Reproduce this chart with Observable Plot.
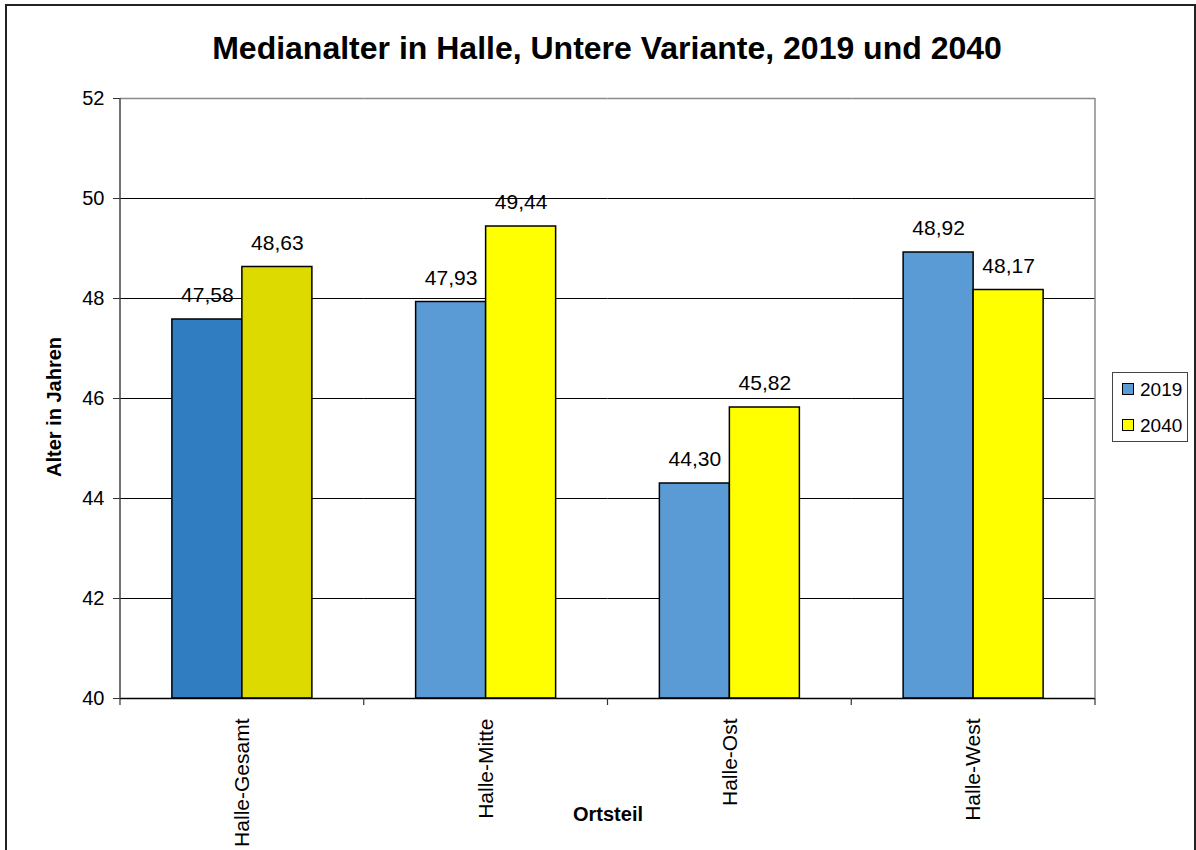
<!DOCTYPE html>
<html>
<head>
<meta charset="utf-8">
<script src="https://cdn.jsdelivr.net/npm/d3@7"></script>
<script src="https://cdn.jsdelivr.net/npm/@observablehq/plot@0.6"></script>
<style>
  html, body { margin: 0; padding: 0; background: #fff; overflow: hidden; }
  #wrap { position: relative; width: 1196px; height: 850px; font-family: "Liberation Sans", Arial, sans-serif; color: #000; }
  #outer { position: absolute; left: 5px; top: 4px; width: 1191px; height: 900px; border: 2px solid #222; border-bottom: none; box-sizing: border-box; }
  #chart { position: absolute; left: 0; top: 0; }
  .t { position: absolute; white-space: nowrap; }
  #title { left: 0; width: 1214px; top: 32px; font-size: 32px; line-height: 32px; font-weight: bold; text-align: center; }
  #ylab { left: -96px; width: 300px; top: 397px; font-size: 20px; line-height: 20px; font-weight: bold; text-align: center; transform: rotate(-90deg); }
  #xlab { left: 508px; width: 200px; top: 804px; font-size: 20px; line-height: 20px; font-weight: bold; text-align: center; }
  #legend { position: absolute; left: 1112px; top: 372px; width: 76px; height: 70px; border: 1px solid #444; box-sizing: border-box; background: #fff; }
  .sw { position: absolute; left: 1122px; width: 12px; height: 12px; border: 1px solid #000; box-sizing: border-box; }
  .lt { position: absolute; left: 1140px; font-size: 19px; line-height: 19px; }
</style>
</head>
<body>
<div id="wrap">
  <div id="outer"></div>
  <div id="chart"></div>
  <div id="title" class="t"></div>
  <div id="ylab" class="t"></div>
  <div id="xlab" class="t"></div>
  <div id="legend"></div>
</div>
<script>
// ---- data ----
const titleText = "Medianalter in Halle, Untere Variante, 2019 und 2040";
const yLabel = "Alter in Jahren";
const xLabel = "Ortsteil";
const categories = ["Halle-Gesamt", "Halle-Mitte", "Halle-Ost", "Halle-West"];
const years = ["2019", "2040"];
const values2019 = [47.58, 47.93, 44.30, 48.92];
const values2040 = [48.63, 49.44, 45.82, 48.17];
const yTicks = [40, 42, 44, 46, 48, 50, 52];

// ---- styles ----
const seriesColors = {"2019": "#5B9BD5", "2040": "#FFFF00"};
const totalColors = {"2019": "#317DC2", "2040": "#DDDA00"};

const rows = categories.flatMap((c, i) => [
  {cat: c, year: years[0], value: values2019[i]},
  {cat: c, year: years[1], value: values2040[i]}
]);
const fillOf = d => (d.cat === categories[0] ? totalColors : seriesColors)[d.year];
const fmt = v => v.toFixed(2).replace(".", ",");

const chart = Plot.plot({
  width: 1196,
  height: 850,
  marginLeft: 120,
  marginRight: 101,
  marginTop: 98,
  marginBottom: 152,
  style: {fontFamily: '"Liberation Sans", Arial, sans-serif', fontSize: "20px", background: "transparent", color: "#000"},
  fx: {domain: categories, padding: 0, round: false},
  x: {domain: years, paddingInner: 0, paddingOuter: 0.741, round: false, axis: null},
  y: {domain: [yTicks[0], yTicks[yTicks.length - 1]]},
  color: {type: "identity"},
  marks: [
    Plot.gridY(yTicks.slice(1, -1), {stroke: "#000", strokeOpacity: 1, strokeWidth: 1}),
    Plot.ruleY([yTicks[yTicks.length - 1]], {stroke: "#8a8a8a", strokeWidth: 1.5}),
    Plot.barY(rows, {fx: "cat", x: "year", y1: yTicks[0], y2: "value", fill: fillOf, stroke: "#000", strokeWidth: 1.5}),
    Plot.ruleY([yTicks[0]], {stroke: "#000", strokeWidth: 1.5}),
    Plot.axisY(yTicks, {anchor: "left", tickSize: 7, tickPadding: 9, tickFormat: d => String(d), stroke: "#333", fontSize: 20, label: null}),
    Plot.axisFx({anchor: "bottom", tickSize: 0, tickPadding: 20, tickRotate: -90, fontSize: 21, label: null}),
    Plot.text(rows, {fx: "cat", x: "year", y: "value", text: d => fmt(d.value), dy: -24, fontSize: 21, fill: "#000"})
  ]
});

// frame edges and boundary tick marks, positioned from the library's fx / y scales
const fxs = chart.scale("fx");
const ys = chart.scale("y");
const band = d3.scaleBand(fxs.domain, fxs.range).padding(0);
const edges = categories.map(c => band(c)).concat([band(categories[categories.length - 1]) + band.bandwidth()]);
const yPos = d3.scaleLinear(ys.domain, ys.range);
const yBase = yPos(yTicks[0]);
const yTop = yPos(yTicks[yTicks.length - 1]);
const svg = d3.select(chart);
// right border of the plot area (gray)
svg.append("line")
  .attr("x1", edges[edges.length - 1]).attr("x2", edges[edges.length - 1])
  .attr("y1", yTop).attr("y2", yBase)
  .attr("stroke", "#8a8a8a").attr("stroke-width", 1.5);
// left axis line
svg.append("line")
  .attr("x1", edges[0]).attr("x2", edges[0])
  .attr("y1", yTop).attr("y2", yBase)
  .attr("stroke", "#444").attr("stroke-width", 1.5);
// category boundary ticks
svg.append("g")
  .attr("stroke", "#333").attr("stroke-width", 1.2)
  .selectAll("line").data(edges).join("line")
  .attr("x1", d => d).attr("x2", d => d)
  .attr("y1", yBase).attr("y2", yBase + 7);

document.getElementById("chart").appendChild(chart);
document.getElementById("title").textContent = titleText;
document.getElementById("ylab").textContent = yLabel;
document.getElementById("xlab").textContent = xLabel;

// legend
const wrap = document.getElementById("wrap");
const legendTops = [383, 419];
years.forEach((yr, i) => {
  const sw = document.createElement("div");
  sw.className = "sw";
  sw.style.top = legendTops[i] + "px";
  sw.style.background = seriesColors[yr];
  wrap.appendChild(sw);
  const lt = document.createElement("div");
  lt.className = "lt";
  lt.style.top = (legendTops[i] - 3.5) + "px";
  lt.textContent = yr;
  wrap.appendChild(lt);
});
</script>
</body>
</html>
